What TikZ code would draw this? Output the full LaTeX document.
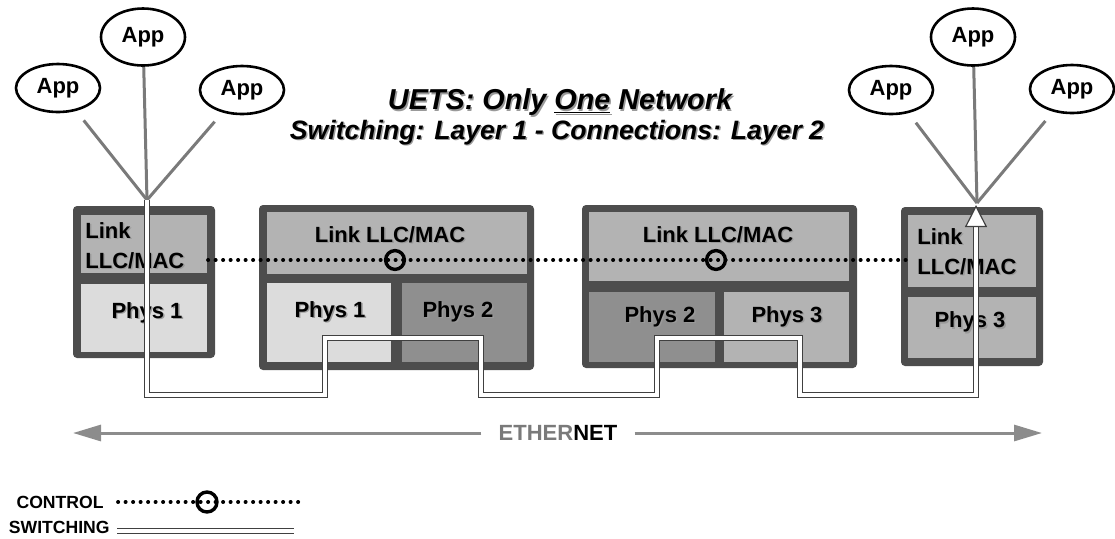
\documentclass[tikz,border=0pt]{standalone}
\usepackage{fontspec}
\setmainfont{Liberation Sans}
\usetikzlibrary{arrows.meta,shapes.geometric}
\definecolor{UBorder}{HTML}{4D4D4D}
\definecolor{UMid}{HTML}{B3B3B3}
\definecolor{ULight}{HTML}{DCDCDC}
\definecolor{UDark}{HTML}{8F8F8F}
\definecolor{UWire}{HTML}{7A7A7A}
\definecolor{UArrow}{HTML}{8C8C8C}
\definecolor{UShade}{HTML}{9A9A9A}

% text with a soft drop shadow
\newcommand{\shadetx}[1]{\leavevmode\rlap{\hspace{0.7pt}\raisebox{-0.7pt}{\textcolor{UShade}{#1}}}#1}

\tikzset{
  stackbox/.style={fill=UBorder, rounded corners=2pt, inner sep=0pt},
  cell/.style={inner sep=0pt},
  celltext/.style={inner sep=0pt, font=\fontsize{11}{15}\selectfont\bfseries},
  app/.style={ellipse, draw, line width=1.3pt, inner sep=0pt, minimum width=42pt,
    minimum height=24pt, font=\fontsize{11}{13}\selectfont\bfseries},
  appline/.style={UWire, line width=1.5pt},
  swline/.style={draw=black!75, line width=0.6pt, double=white, double distance=1.8pt},
  ctlline/.style={black, line width=1.9pt, line cap=round, dash pattern=on 0.1pt off 3.65pt},
  ctlring/.style={circle, draw, line width=1.7pt, minimum size=9.4pt, inner sep=0pt},
  legtext/.style={inner sep=0pt, font=\fontsize{8.8}{10}\selectfont\bfseries},
}

\begin{document}
\begin{tikzpicture}[x=0.5pt,y=-0.5pt]
\path[use as bounding box] (0,0) rectangle (1115,538);

% applications
\node[app] (appL1) at (58,88) {App};
\node[app, minimum height=28.5pt] (appL2) at (143,37) {App};
\node[app] (appL3) at (242,90) {App};
\node[app] (appR1) at (891,90) {App};
\node[app, minimum height=28.5pt] (appR2) at (973,37) {App};
\node[app] (appR3) at (1072,89) {App};
\coordinate (fanL) at (147,200);
\coordinate (fanR) at (977,203);
\draw[appline, shorten <=6pt] (appL1) -- (fanL);
\draw[appline] (appL2) -- (fanL);
\draw[appline, shorten <=6pt] (appL3) -- (fanL);
\draw[appline, shorten <=6pt] (appR1) -- (fanR);
\draw[appline] (appR2) -- (fanR);
\draw[appline, shorten <=6pt] (appR3) -- (fanR);

% titles
\node[font=\fontsize{14.4}{16}\selectfont\bfseries\itshape] (title) at (560,103)
  {\shadetx{UETS: Only \underline{One} Network}};
\node[font=\fontsize{13.3}{15}\selectfont\bfseries\itshape] (subtitle) at (557,133)
  {\shadetx{Switching: Layer 1 - Connections: Layer 2}};

% stack 1
\node[stackbox, minimum width=71pt, minimum height=76pt] (b1) at (144,282) {};
\node[cell, fill=UMid, minimum width=63pt, minimum height=29pt] (b1link) at (144,244) {};
\node[cell, fill=ULight, minimum width=63pt, minimum height=34pt] (b1phys) at (144,318) {};
\node[celltext, anchor=west, align=left] (b1linktx) at (85,246) {\shadetx{Link}\\\shadetx{LLC/MAC}};
\node[celltext] (b1physt) at (147,313) {\shadetx{Phys 1}};

% stack 2
\node[stackbox, minimum width=137.5pt, minimum height=82.5pt] (b2) at (396.5,287.5) {};
\node[cell, fill=UMid, minimum width=130pt, minimum height=31pt] (b2link) at (397,243) {};
\node[cell, fill=ULight, minimum width=62pt, minimum height=39.5pt] (b2physA) at (329,322.5) {};
\node[cell, fill=UDark, minimum width=62.5pt, minimum height=39.5pt] (b2physB) at (464.5,322.5) {};
\node[celltext] (b2linktx) at (390,235) {\shadetx{Link LLC/MAC}};
\node[celltext] (b2physAt) at (330,312) {\shadetx{Phys 1}};
\node[celltext] (b2physBt) at (458,312) {\shadetx{Phys 2}};

% stack 3
\node[stackbox, minimum width=137.5pt, minimum height=81.5pt] (b3) at (719.5,286.5) {};
\node[cell, fill=UMid, minimum width=130pt, minimum height=34.5pt] (b3link) at (719,246.5) {};
\node[cell, fill=UDark, minimum width=63pt, minimum height=35pt] (b3physA) at (652,327) {};
\node[cell, fill=UMid, minimum width=62.5pt, minimum height=35pt] (b3physB) at (786.5,327) {};
\node[celltext] (b3linktx) at (718,235) {\shadetx{Link LLC/MAC}};
\node[celltext] (b3physAt) at (660,317) {\shadetx{Phys 2}};
\node[celltext] (b3physBt) at (787,317) {\shadetx{Phys 3}};

% stack 4
\node[stackbox, minimum width=71pt, minimum height=79.5pt] (b4) at (972,286.5) {};
\node[cell, fill=UMid, minimum width=64pt, minimum height=36pt] (b4link) at (972,251) {};
\node[cell, fill=UMid, minimum width=64pt, minimum height=30.5pt] (b4phys) at (972,327.5) {};
\node[celltext, anchor=west, align=left] (b4linktx) at (917,252) {\shadetx{Link}\\\shadetx{LLC/MAC}};
\node[celltext] (b4physt) at (970,323) {\shadetx{Phys 3}};

% control path
\coordinate (ctlL) at (208,260);
\coordinate (ctlR) at (908,260);
\draw[ctlline] (ctlL) -- (ctlR);
\node[ctlring] (ring1) at (395,260) {};
\node[ctlring] (ring2) at (716,260) {};

% switching path
\coordinate (swtip) at (976,205);
\draw[swline, -{Triangle[open, fill=white, length=11pt, width=11pt]}] (fanL) -- ++(0,195) -- ++(178,0)
  -- ++(0,-57) -- ++(156,0) -- ++(0,57) -- ++(176,0) -- ++(0,-57) -- ++(143,0)
  -- ++(0,57) -- ++(176,0) -- (swtip);

% ethernet
\node[font=\fontsize{11}{13}\selectfont\bfseries, inner xsep=8.5pt] (eth) at (558,433)
  {\textcolor{UWire}{ETHER}NET};
\coordinate (ethL) at (73,433);
\coordinate (ethR) at (1042,433);
\draw[UArrow, line width=1.5pt, -{Triangle[length=14pt, width=8pt]}] (eth.west) -- (ethL);
\draw[UArrow, line width=1.5pt, -{Triangle[length=14pt, width=8pt]}] (eth.east) -- (ethR);

% legend
\node[legtext, anchor=east] (legctl) at (104,502) {CONTROL};
\coordinate (legctlW) at (118,502);
\coordinate (legctlE) at (300,502);
\draw[ctlline] (legctlW) -- (legctlE);
\node[ctlring, minimum size=10pt] (legring) at (207,502) {};
\node[legtext, anchor=east] (legsw) at (110,527) {SWITCHING};
\coordinate (legswW) at (117,531);
\coordinate (legswE) at (294,531);
\draw[swline] (legswW) -- (legswE);
\end{tikzpicture}
\end{document}
